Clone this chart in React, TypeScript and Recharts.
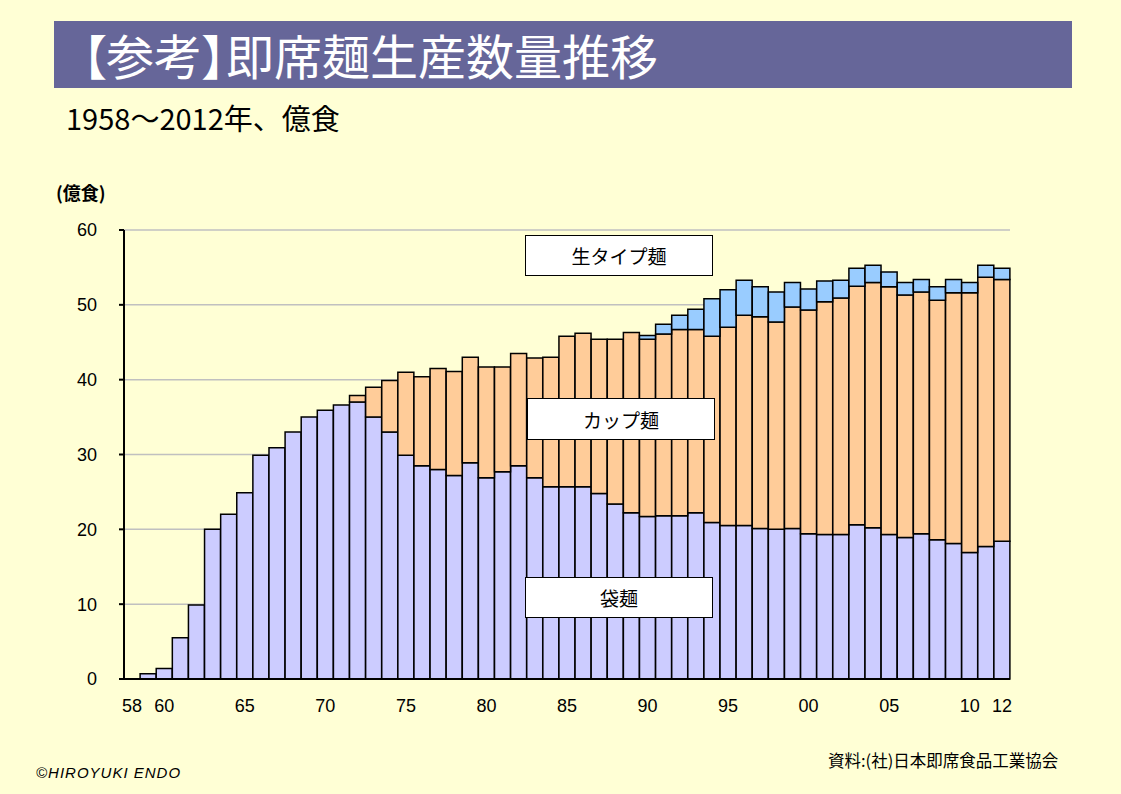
import React from "react";
import { BarChart, Bar, XAxis, YAxis, CartesianGrid } from "recharts";

// 1958 .. 2012, two-digit year labels
const years = [
  "58", "59", "60", "61", "62", "63", "64", "65", "66", "67",
  "68", "69", "70", "71", "72", "73", "74", "75", "76", "77",
  "78", "79", "80", "81", "82", "83", "84", "85", "86", "87",
  "88", "89", "90", "91", "92", "93", "94", "95", "96", "97",
  "98", "99", "00", "01", "02", "03", "04", "05", "06", "07",
  "08", "09", "10", "11", "12",
];

// 袋麺 (億食)
const bagNoodles = [
  0, 0.7, 1.4, 5.5, 9.9, 20.0, 22.0, 24.9, 29.9, 30.9,
  33.0, 35.0, 35.9, 36.6, 37.0, 35.0, 33.0, 29.9, 28.5, 28.0,
  27.2, 28.9, 26.9, 27.7, 28.5, 26.9, 25.7, 25.7, 25.7, 24.8,
  23.4, 22.2, 21.7, 21.8, 21.8, 22.2, 20.9, 20.5, 20.5, 20.1,
  20.0, 20.1, 19.4, 19.3, 19.3, 20.6, 20.2, 19.3, 18.9, 19.4,
  18.6, 18.1, 16.9, 17.7, 18.4,
];

// カップ麺 (億食)
const cupNoodles = [
  0, 0, 0, 0, 0, 0, 0, 0, 0, 0,
  0, 0, 0, 0, 0.9, 4.0, 6.9, 11.1, 11.9, 13.5,
  13.9, 14.1, 14.8, 14.0, 15.0, 16.0, 17.3, 20.1, 20.5, 20.6,
  22.0, 24.1, 23.7, 24.3, 24.9, 24.5, 24.9, 26.5, 28.1, 28.3,
  27.7, 29.6, 29.9, 31.1, 31.6, 31.9, 32.8, 33.1, 32.4, 32.3,
  32.0, 33.5, 34.7, 36.0, 35.0,
];

// 生タイプ麺 (億食)
const freshNoodles = [
  0, 0, 0, 0, 0, 0, 0, 0, 0, 0,
  0, 0, 0, 0, 0, 0, 0, 0, 0, 0,
  0, 0, 0, 0, 0, 0, 0, 0, 0, 0,
  0, 0, 0.5, 1.3, 1.9, 2.7, 5.0, 5.0, 4.7, 4.0,
  4.0, 3.3, 2.8, 2.8, 2.4, 2.4, 2.3, 2.0, 1.7, 1.7,
  1.8, 1.8, 1.4, 1.6, 1.5,
];

const xLabels = ["58", "60", "65", "70", "75", "80", "85", "90", "95", "00", "05", "10", "12"];
const yTicks = [0, 10, 20, 30, 40, 50, 60];

const data = years.map((y, i) => ({
  year: y,
  bag: bagNoodles[i],
  cup: cupNoodles[i],
  fresh: freshNoodles[i],
}));

const jp = "'Noto Sans CJK JP', 'Noto Sans', sans-serif";
const num = "'Liberation Sans', sans-serif";

const labelBox = {
  position: "absolute" as const,
  width: "188px",
  height: "40px",
  background: "#fff",
  border: "1px solid #000",
  display: "flex",
  alignItems: "center",
  justifyContent: "center",
  fontFamily: jp,
  fontSize: "19px",
  color: "#000",
  boxSizing: "border-box" as const,
};

const palt = { fontFeatureSettings: '"palt"' };

export default function App() {
  return (
    <div style={{
      position: "absolute",
      left: 0,
      top: 0,
      width: "1121px",
      height: "794px",
      background: "#FFFFD5",
      overflow: "hidden",
    }}>
      {/* title bar */}
      <div style={{
        position: "absolute",
        left: "54px",
        top: "21px",
        width: "1018px",
        height: "67px",
        background: "#666699",
      }} />
      <div style={{
        position: "absolute",
        left: "82px",
        top: "21px",
        height: "67px",
        lineHeight: "67px",
        fontFamily: jp,
        fontSize: "48px",
        color: "#fff",
        whiteSpace: "nowrap",
      }}>
        <span style={palt}>【</span>参考<span style={palt}>】</span>即席麺生産数量推移
      </div>
      <div style={{
        position: "absolute",
        left: "66px",
        top: "99px",
        fontFamily: jp,
        fontSize: "29px",
        lineHeight: "36px",
        color: "#000",
        whiteSpace: "nowrap",
      }}>
        1958～2012年、億食
      </div>
      <div style={{
        position: "absolute",
        left: "56px",
        top: "180px",
        fontFamily: jp,
        fontSize: "18px",
        fontWeight: 700,
        lineHeight: "24px",
        color: "#000",
      }}>
        (億食)
      </div>

      <div style={{ position: "absolute", left: 0, top: 0 }}>
        <BarChart
          width={1121}
          height={794}
          data={data}
          margin={{ top: 230, right: 111, bottom: 85, left: 64 }}
          barCategoryGap={0}
          barGap={0}
        >
          <CartesianGrid vertical={false} stroke="#C0C0C0" strokeWidth={1.5} />
          <XAxis
            dataKey="year"
            interval={0}
            height={30}
            tickLine={false}
            axisLine={{ stroke: "#000", strokeWidth: 2 }}
            tickMargin={14}
            tick={{ fill: "#000", fontSize: 18, fontFamily: num }}
            tickFormatter={(v) => (xLabels.includes(v) ? v : "")}
          />
          <YAxis
            width={60}
            domain={[0, 60]}
            ticks={yTicks}
            tickSize={5}
            tickMargin={22}
            axisLine={{ stroke: "#000", strokeWidth: 2 }}
            tickLine={{ stroke: "#000", strokeWidth: 2 }}
            tick={{ fill: "#000", fontSize: 18, fontFamily: num }}
          />
          <Bar dataKey="bag" stackId="a" fill="#CCCCFF" stroke="#000" strokeWidth={1.5} isAnimationActive={false} />
          <Bar dataKey="cup" stackId="a" fill="#FFCC99" stroke="#000" strokeWidth={1.5} isAnimationActive={false} />
          <Bar dataKey="fresh" stackId="a" fill="#99CCFF" stroke="#000" strokeWidth={1.5} isAnimationActive={false} />
        </BarChart>
      </div>

      <div style={{ ...labelBox, left: "525px", top: "235px", height: "41px" }}>生タイプ麺</div>
      <div style={{ ...labelBox, left: "527px", top: "398px", height: "42px" }}>カップ麺</div>
      <div style={{ ...labelBox, left: "525px", top: "577px", height: "41px" }}>袋麺</div>

      <div style={{
        position: "absolute",
        left: "828px",
        top: "748px",
        fontFamily: jp,
        fontSize: "16.5px",
        lineHeight: "24px",
        color: "#000",
        whiteSpace: "nowrap",
      }}>
        資料:(社)日本即席食品工業協会
      </div>
      <div style={{
        position: "absolute",
        left: "36px",
        top: "763px",
        fontFamily: num,
        fontSize: "15px",
        fontStyle: "italic",
        letterSpacing: "1px",
        lineHeight: "20px",
        color: "#000",
        whiteSpace: "nowrap",
      }}>
        ©HIROYUKI ENDO
      </div>
    </div>
  );
}
